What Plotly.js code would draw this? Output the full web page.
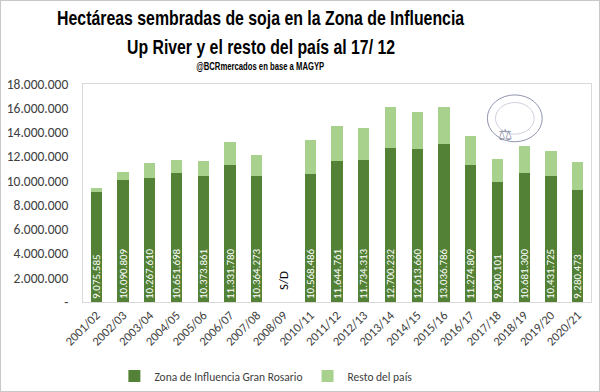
<!DOCTYPE html>
<html><head><meta charset="utf-8">
<script src="https://cdn.plot.ly/plotly-3.0.1.min.js"></script>
<style>
html,body{margin:0;padding:0;background:#fff;}
#wrap{position:relative;width:600px;height:392px;}
#chart{width:600px;height:392px;}
#frame{position:absolute;left:0;top:0;width:598px;height:390px;border:1px solid #c8c8c8;pointer-events:none;}
</style></head>
<body><div id="wrap"><div id="chart"></div><div id="frame"></div></div>
<script>
const campanias = ['2001/02','2002/03','2003/04','2004/05','2005/06','2006/07','2007/08','2008/09','2010/11','2011/12','2012/13','2013/14','2014/15','2015/16','2016/17','2017/18','2018/19','2019/20','2020/21'];
const zonaGranRosario = [9075585,10090809,10267610,10651698,10373861,11331780,10364273,null,10568486,11644761,11734313,12700232,12613660,13036786,11274809,9900101,10681300,10431725,9280473];
const restoDelPais = [370000,630000,1170000,1040000,1230000,1840000,1740000,null,2830000,2850000,2620000,3430000,3050000,3090000,2470000,1900000,2160000,2070000,2240000];
const yTickVals = [0,2000000,4000000,6000000,8000000,10000000,12000000,14000000,16000000,18000000];
const yTickText = ['-','2.000.000','4.000.000','6.000.000','8.000.000','10.000.000','12.000.000','14.000.000','16.000.000','18.000.000'];
const sinDatos = '2008/09';

const baseFam = 'Calibri, Carlito, "Liberation Sans", Arial, sans-serif';
const titleFam = '"Liberation Sans", Arial, sans-serif';

const traces = [
  {type:'bar', name:'Zona de Influencia Gran Rosario', x:campanias, y:zonaGranRosario,
   marker:{color:'#538135'}, texttemplate:'%{y:,.0f}', textposition:'inside', insidetextanchor:'start',
   textangle:-90, constraintext:'none', insidetextfont:{color:'#ffffff', size:11, family:baseFam},
   hoverinfo:'x+y'},
  {type:'bar', name:'Resto del país', x:campanias, y:restoDelPais,
   marker:{color:'#A9D18E'}, hoverinfo:'x+y'}
];

const layout = {
  width:600, height:392, barmode:'stack', bargap:0.58, separators:',.',
  paper_bgcolor:'#ffffff', plot_bgcolor:'#ffffff',
  margin:{l:83, r:9, t:84, b:90, autoexpand:false},
  showlegend:true,
  legend:{orientation:'h', traceorder:'normal', x:0.36, xanchor:'center', y:-0.34, yanchor:'middle', itemwidth:30, font:{family:baseFam, size:11.5, color:'#404040'}},
  xaxis:{type:'category', tickangle:-45, tickfont:{family:baseFam, size:12.5, color:'#404040'}, showline:true, linecolor:'#d9d9d9', mirror:true, ticks:'', showgrid:false, automargin:false},
  yaxis:{range:[0,18000000], tickvals:yTickVals, ticktext:yTickText, tickfont:{family:baseFam, size:13.5, color:'#404040'}, showgrid:false, zeroline:false, showline:true, linecolor:'#d9d9d9', mirror:true, ticks:'', ticklabelstandoff:11, automargin:false},
  annotations:[
    {xref:'paper', yref:'paper', x:0.35, y:1.303, xanchor:'center', yanchor:'middle', showarrow:false,
     text:'<b>Hectáreas sembradas de soja en la Zona de Influencia</b>',
     font:{family:titleFam, size:21, color:'#000'}},
    {xref:'paper', yref:'paper', x:0.35, y:1.17, xanchor:'center', yanchor:'middle', showarrow:false,
     text:'<b>Up River y el resto del país al 17/ 12</b>',
     font:{family:titleFam, size:21, color:'#000'}},
    {xref:'paper', yref:'paper', x:0.35, y:1.078, xanchor:'center', yanchor:'middle', showarrow:false,
     text:'<b>@BCRmercados en base a MAGYP</b>',
     font:{family:titleFam, size:10, color:'#000'}},
    {x:sinDatos, y:0, xref:'x', yref:'y', yanchor:'bottom', yshift:10, showarrow:false, textangle:-90,
     text:'S/D', font:{family:baseFam, size:13, color:'#000'}},
    {xref:'paper', yref:'paper', x:0.849, y:0.82, showarrow:false, text:'⚖',
     font:{family:'DejaVu Sans', size:16, color:'#9095ad'}}
  ],
  shapes:[
    {type:'circle', xref:'paper', yref:'paper', x0:0.796, x1:0.904, y0:0.735, y1:0.95, line:{color:'#9095ad', width:1}},
    {type:'circle', xref:'paper', yref:'paper', x0:0.812, x1:0.888, y0:0.77, y1:0.915, line:{color:'#b8bbcb', width:0.7}}
  ]
};

// target widths (px) of the condensed title lines, as in the reference
const titleWidths = [407, 268, 128];

Plotly.newPlot('chart', traces, layout, {displayModeBar:false, staticPlot:true}).then(function(gd){
  const texts = gd.querySelectorAll('.annotation-text');
  titleWidths.forEach(function(w, i){
    const t = texts[i];
    if (!t) return;
    t.setAttribute('textLength', w);
    t.setAttribute('lengthAdjust', 'spacingAndGlyphs');
  });
});
</script></body></html>
